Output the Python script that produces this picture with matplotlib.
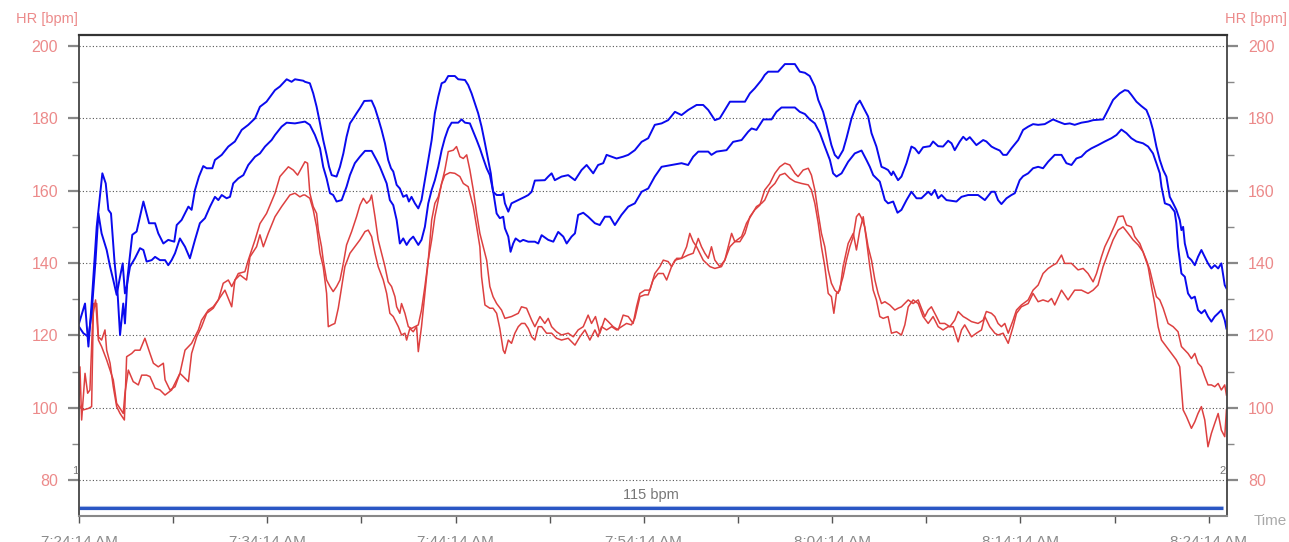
import numpy as np
import matplotlib
matplotlib.use('Agg')
import matplotlib.pyplot as plt
from matplotlib.ticker import MultipleLocator, FixedLocator

plt.rcParams['font.family'] = ['Liberation Sans Narrow', 'Liberation Sans', 'DejaVu Sans']

# heart rate traces: (minutes since 7:24:14 AM, bpm)
blue_upper = [(0.0,123.3),(0.32,128.8),(0.50,116.9),(0.67,128.8),(0.94,150.0),(1.24,164.8),(1.42,162.0),(1.56,154.7),(1.70,153.7),(1.88,140.8),(2.05,131.6),(2.18,120.1),(2.35,128.8),(2.44,123.3),(2.58,136.2),(2.83,147.8),(3.06,148.7),(3.42,157.0),(3.72,151.0),(4.04,151.0),(4.21,148.2),(4.48,145.4),(4.74,146.4),(5.06,145.9),(5.19,150.5),(5.45,151.9),(5.81,155.6),(5.98,154.7),(6.16,160.2),(6.37,163.9),(6.60,166.8),(6.78,166.2),(7.08,166.2),(7.22,168.5),(7.58,169.9),(7.93,172.2),(8.28,173.6),(8.64,176.8),(8.99,178.2),(9.35,180.0),(9.61,183.2),(9.96,184.6),(10.41,187.8),(10.67,188.8),(11.03,190.8),(11.29,190.1),(11.47,190.8),(11.91,190.4),
    (12.00,190.1),(12.26,189.7),(12.44,186.9),(12.62,183.2),(12.80,178.6),(12.97,174.0),(13.15,169.9),(13.28,166.6),(13.42,164.3),(13.68,163.9),(13.86,166.6),(14.04,170.3),(14.21,174.9),(14.39,178.6),(14.57,180.0),(14.74,181.4),(14.92,182.8),(15.15,184.8),(15.54,184.9),(15.72,182.8),(15.89,180.0),(16.07,176.8),(16.25,173.1),(16.42,168.5),(16.57,166.2),(16.69,165.3),(16.87,161.6),(17.04,160.6),(17.22,158.3),(17.40,158.8),(17.52,157.0),(17.66,158.3),(17.84,156.5),(18.02,155.1),(18.19,157.4),(18.37,162.9),(18.55,168.5),(18.73,174.0),(18.90,181.4),(19.08,186.0),(19.26,189.7),(19.43,190.1),(19.61,191.7),(19.96,191.7),(20.14,190.8),(20.50,190.6),(20.67,189.2),(20.85,186.9),(21.03,184.1),(21.20,181.4),(21.38,177.7),(21.56,173.1),(21.73,168.5),(21.87,164.8),(21.99,159.7),(22.18,158.8),(22.44,158.8),(22.53,159.3),(22.62,156.5),(22.80,154.2),(22.97,156.5),(23.33,157.4),(23.68,158.3),(23.86,158.8),(24.04,159.7),
    (24.21,162.8),(24.74,162.9),(24.92,163.9),(25.10,164.8),(25.27,162.9),(25.63,163.9),(25.98,164.3),(26.34,162.9),(26.69,165.7),(26.96,167.1),(27.31,164.8),(27.57,167.1),(27.84,167.6),(28.02,169.9),(28.29,169.4),(28.55,168.9),(28.90,169.4),(29.17,169.9),(29.52,171.2),(29.88,173.5),(30.23,174.5),(30.58,178.2),(30.94,178.6),(31.29,179.5),(31.65,181.8),(32.00,180.9),(32.35,182.3),(32.80,183.7),(33.15,183.7),(33.42,182.3),(33.77,179.5),(34.03,180.0),(34.30,182.3),(34.57,184.6),(35.37,184.6),(35.63,186.9),(35.89,188.3),(36.25,190.6),
    (36.42,192.0),(36.60,192.9),(37.13,192.9),(37.49,195.0),(38.02,195.0),(38.28,192.9),(38.55,192.6),(38.81,191.7),(39.08,188.8),(39.26,185.1),(39.52,181.8),(39.70,178.2),(39.96,172.6),(40.14,169.9),(40.32,168.9),(40.58,171.2),(40.76,174.5),(41.03,180.0),(41.29,183.7),(41.47,184.9),(41.73,182.3),(41.91,180.5),(42.09,175.9),(42.35,172.2),(42.62,166.6),(42.80,166.2),(42.97,165.7),(43.15,164.3),(43.24,165.3),(43.50,162.9),(43.68,163.9),(43.95,167.6),(44.21,172.2),(44.39,171.7),(44.60,170.3),(44.83,172.0),(45.19,172.3),(45.36,173.6),(45.63,172.3),(45.89,172.2),(46.16,173.8),(46.34,173.1),(46.51,171.2),(46.78,173.6),(46.96,174.9),(47.13,174.0),(47.31,174.8),(47.66,172.6),(48.02,174.0),(48.19,173.6),(48.46,172.2),
    (48.64,171.7),(48.90,171.1),(49.08,169.9),(49.27,169.9),(49.52,171.7),(49.88,174.0),(50.14,176.8),(50.41,177.7),(50.67,178.4),(50.94,178.2),(51.29,178.4),(51.73,179.7),(52.00,179.1),(52.35,178.4),(52.62,178.6),(52.88,178.2),(53.24,178.8),(53.59,179.1),(53.86,179.5),(54.39,179.7),(54.65,182.3),(54.92,185.1),(55.27,186.9),(55.54,187.8),(55.72,187.6),(55.89,186.5),(56.16,184.6),(56.42,183.4),(56.69,182.3),(56.87,180.0),(57.04,176.8),(57.22,172.2),(57.40,168.5),(57.58,165.7),(57.75,163.9),(57.93,158.3),(58.11,156.5),(58.28,154.7),(58.46,151.9),(58.55,149.1),(58.64,150.0),(58.73,145.4),(58.90,141.7),(59.08,140.8),(59.26,139.4),(59.43,141.7),(59.61,143.6),(59.79,141.7),(59.96,139.9),(60.14,138.5),(60.32,139.4),(60.50,138.5),(60.67,139.9),(60.85,133.9),(60.94,133.0)]

blue_lower = [(0.0,122.4),(0.23,120.6),(0.50,119.6),(0.67,126.1),(0.88,140.8),(1.03,153.7),(1.20,148.2),(1.47,143.6),(1.65,139.0),(1.82,135.3),(2.00,131.2),(2.18,136.2),(2.32,139.9),(2.44,131.6),(2.53,133.5),(2.71,139.0),(2.97,141.3),(3.24,144.1),(3.42,143.6),(3.59,140.4),(3.86,140.8),(4.04,141.7),(4.30,140.8),(4.57,140.8),(4.74,139.4),(4.92,140.8),(5.10,142.7),(5.36,146.8),(5.63,144.5),(5.89,141.3),(6.16,146.4),(6.42,151.0),(6.69,152.4),(6.96,155.6),(7.22,158.3),(7.40,157.4),(7.58,158.8),(7.84,157.9),(8.02,158.3),(8.19,162.0),(8.46,163.4),(8.73,164.3),(8.99,167.1),(9.35,169.4),(9.61,170.3),(9.88,172.2),(10.23,174.0),(10.41,175.4),(10.76,177.7),(11.03,178.8),(11.47,178.6),
    (12.00,179.1),(12.26,178.2),(12.53,175.4),(12.80,171.7),(12.97,166.6),(13.15,163.4),(13.33,159.3),(13.50,158.8),(13.68,157.0),(13.95,157.4),(14.21,161.1),(14.39,164.3),(14.65,167.6),(14.92,169.4),(15.19,171.0),(15.54,171.0),(15.80,168.5),(15.98,166.6),(16.16,164.3),(16.34,162.0),(16.51,157.4),(16.69,156.0),(16.87,151.9),(17.04,145.4),(17.22,146.8),(17.40,145.0),(17.57,146.4),(17.75,147.3),(18.02,145.0),(18.19,146.4),(18.37,150.0),(18.55,156.5),(18.73,160.2),(18.90,162.9),(19.08,166.6),(19.26,171.2),(19.43,174.5),(19.61,177.2),(19.79,178.8),(20.14,178.8),(20.32,179.7),(20.50,178.8),(20.76,178.6),(20.94,176.3),(21.12,174.0),(21.29,171.7),(21.47,168.9),(21.65,166.2),(21.82,164.3),(22.00,159.7),(22.18,153.7),(22.35,152.4),(22.53,152.8),(22.62,149.6),(22.80,147.3),(22.92,143.1),(23.06,145.4),(23.19,146.8),(23.42,145.9),(23.59,146.4),(23.86,145.9),
    (24.21,145.9),(24.39,145.4),(24.57,147.7),(24.92,146.4),(25.19,145.9),(25.45,148.6),(25.72,147.3),(25.90,145.4),(26.16,147.3),(26.34,148.2),(26.51,153.3),(26.78,153.9),(27.04,152.8),(27.40,151.0),(27.66,150.5),(27.93,152.8),(28.20,152.8),(28.46,150.5),(28.81,153.3),(29.17,155.6),(29.52,156.5),(29.88,159.7),(30.23,160.6),(30.58,163.9),(30.94,166.6),(31.47,167.1),(32.00,167.6),(32.35,167.1),(32.62,169.4),(32.89,170.8),(33.42,170.8),(33.59,169.9),(33.86,170.8),(34.39,171.2),(34.74,173.5),(35.19,174.0),(35.54,176.3),(35.72,177.2),(35.98,176.8),(36.34,179.7),
    (36.42,179.7),(36.78,179.7),(37.04,181.8),(37.31,183.0),(38.02,183.0),(38.28,181.8),(38.55,181.2),(38.81,179.7),(39.08,178.6),(39.35,175.9),(39.61,172.2),(39.88,168.5),(40.05,164.8),(40.23,163.9),(40.50,164.8),(40.85,168.0),(41.20,170.3),(41.56,171.1),(41.82,168.5),(42.00,166.6),(42.18,164.3),(42.53,162.5),(42.80,157.4),(42.97,156.5),(43.24,157.0),(43.47,153.9),(43.68,154.7),(43.95,157.4),(44.21,159.7),(44.48,157.9),(44.74,157.9),(45.10,159.7),(45.27,158.8),(45.45,160.2),(45.63,157.9),(45.81,158.8),(46.07,157.4),(46.60,157.0),(46.87,158.3),(47.22,158.8),(47.75,158.8),(48.11,157.4),(48.46,159.7),
    (48.64,159.7),(48.81,157.4),(48.99,156.3),(49.26,157.9),(49.52,158.8),(49.70,159.3),(49.96,162.9),(50.14,164.0),(50.41,164.8),(50.67,166.2),(50.94,166.6),(51.20,166.2),(51.47,168.0),(51.82,169.9),(52.18,169.9),(52.44,167.6),(52.71,167.1),(52.97,168.9),(53.24,169.4),(53.50,170.8),(53.77,171.7),(54.12,172.6),(54.48,173.6),(54.83,174.5),(55.10,175.4),(55.36,176.9),(55.63,175.9),(55.89,174.5),(56.16,173.6),(56.51,173.1),(56.78,172.2),(57.04,170.3),(57.22,167.6),(57.40,164.8),(57.49,161.1),(57.67,156.5),(57.93,156.0),(58.19,154.2),(58.28,151.0),(58.37,144.5),(58.55,137.1),(58.73,136.2),(58.90,131.6),(59.08,130.2),(59.26,130.7),(59.43,127.0),(59.61,126.1),(59.79,127.0),(59.96,125.2),(60.14,123.8),(60.32,125.2),(60.50,126.1),(60.67,127.0),(60.85,124.2),(60.94,121.9)]

red_upper = [(0.0,101.2),(0.05,111.3),(0.14,96.6),(0.32,109.5),(0.46,104.0),(0.58,104.9),(0.76,128.8),(0.94,128.8),(1.03,119.6),(1.20,118.7),(1.38,121.5),(1.47,115.9),(1.65,112.3),(1.82,105.8),(2.00,100.3),(2.18,98.4),(2.41,96.6),(2.53,114.1),(2.80,115.0),(2.97,115.9),(3.24,115.9),(3.50,119.2),(3.77,115.0),(3.95,112.3),(4.21,111.3),(4.48,112.3),(4.57,107.7),(4.83,104.9),(5.10,105.8),(5.36,109.5),(5.63,115.9),(5.98,117.8),(6.34,121.5),(6.51,124.2),(6.87,127.0),(7.13,127.9),(7.40,129.8),(7.66,134.4),(7.93,135.3),(8.11,133.5),(8.46,137.1),(8.81,137.6),(8.99,140.8),(9.35,146.4),(9.61,150.9),(9.96,153.7),(10.41,159.3),(10.67,163.9),(11.12,166.6),(11.38,165.7),(11.61,164.3),
    (12.00,168.0),(12.14,167.6),(12.26,159.3),(12.44,155.6),(12.62,153.7),(12.71,149.1),(12.88,144.5),(12.97,140.8),(13.15,135.3),(13.33,133.5),(13.50,132.1),(13.68,133.5),(13.86,135.3),(14.04,139.9),(14.21,145.0),(14.48,148.7),(14.74,152.8),(14.92,156.0),(15.10,157.9),(15.28,156.5),(15.45,157.4),(15.54,158.8),(15.72,152.8),(15.89,146.4),(16.07,142.7),(16.25,139.0),(16.42,134.8),(16.60,133.5),(16.78,130.7),(16.87,127.9),(17.04,126.1),(17.13,128.8),(17.31,126.1),(17.49,122.4),(17.66,121.9),(17.84,122.4),(18.02,122.9),(18.19,127.0),(18.37,133.5),(18.55,140.8),(18.73,146.4),(18.90,152.8),(19.08,157.4),(19.26,162.0),(19.43,165.7),(19.61,170.8),(19.88,171.2),(20.05,172.2),(20.23,169.4),(20.41,168.9),(20.59,169.9),(20.76,165.7),(20.94,160.2),(21.12,153.7),(21.29,148.2),(21.47,144.5),(21.65,140.8),(21.82,133.5),(21.99,130.7),(22.18,128.8),(22.44,127.0),(22.62,124.7),(22.97,125.2),(23.33,126.1),(23.50,127.9),(23.77,127.5),(24.04,124.2),
    (24.21,122.4),(24.48,125.2),(24.74,123.3),(24.92,124.7),(25.10,122.4),(25.36,121.0),(25.63,120.1),(25.98,120.6),(26.25,119.6),(26.51,121.5),(26.78,122.4),(27.04,125.6),(27.22,123.3),(27.43,125.2),(27.66,120.6),(27.93,124.7),(28.11,123.8),(28.37,122.4),(28.64,121.5),(28.90,125.6),(29.17,125.2),(29.43,123.3),(29.61,127.9),(29.79,131.6),(30.05,132.5),(30.32,132.5),(30.58,137.1),(30.85,139.0),(31.03,140.8),(31.29,140.4),(31.47,139.0),(31.74,141.3),(32.00,141.3),(32.27,144.5),(32.44,148.2),(32.62,145.9),(32.80,144.5),(32.97,142.7),(33.15,140.8),(33.33,139.9),(33.51,139.0),(33.77,138.5),(34.12,139.0),(34.30,140.8),(34.48,144.5),(34.66,148.2),(34.83,145.9),(35.10,145.9),(35.37,148.2),(35.63,152.8),(35.89,154.7),(36.16,156.0),
    (36.42,160.2),(36.69,162.0),(36.96,164.8),(37.22,166.6),(37.49,167.6),(37.75,167.1),(38.02,164.8),(38.19,163.9),(38.46,165.7),(38.73,166.2),(38.90,164.3),(39.08,160.2),(39.26,153.7),(39.43,148.2),(39.61,144.5),(39.79,138.1),(39.96,134.4),(40.14,132.5),(40.32,131.6),(40.58,136.2),(40.76,140.8),(40.94,144.5),(41.12,147.3),(41.29,152.8),(41.43,153.7),(41.56,152.4),(41.73,150.0),(41.91,144.5),(42.09,140.8),(42.27,135.3),(42.44,131.6),(42.62,128.8),(42.80,129.3),(43.06,128.4),(43.33,127.0),(43.50,127.5),(43.68,127.9),(44.04,129.8),(44.30,128.8),(44.57,129.8),(44.74,127.5),(44.92,125.2),(45.10,127.0),(45.27,127.9),(45.54,125.2),(45.72,123.3),(45.98,123.3),(46.25,122.4),(46.51,124.2),(46.69,126.6),(46.96,125.2),(47.13,124.7),(47.40,123.8),(47.75,123.3),(48.02,124.2),(48.19,126.6),(48.46,126.1),
    (48.64,125.2),(48.81,123.3),(48.99,122.4),(49.17,123.3),(49.35,120.6),(49.61,124.2),(49.79,127.0),(50.05,128.4),(50.41,129.8),(50.67,132.5),(50.94,133.9),(51.20,137.1),(51.47,138.5),(51.73,139.4),(51.91,139.9),(52.18,142.2),(52.35,139.9),(52.71,139.9),(53.06,138.1),(53.33,138.5),(53.59,137.1),(53.86,134.8),(54.04,137.1),(54.30,141.7),(54.48,144.5),(54.74,147.3),(55.01,150.5),(55.19,152.8),(55.45,153.0),(55.63,150.5),(55.89,150.0),(56.07,147.3),(56.34,145.4),(56.51,143.1),(56.69,140.8),(56.87,138.1),(57.04,134.4),(57.22,130.7),(57.40,129.8),(57.58,127.5),(57.84,123.3),(58.11,122.4),(58.37,121.0),(58.55,116.9),(58.73,115.9),(58.90,115.0),(59.08,113.6),(59.26,115.0),(59.43,112.3),(59.61,111.3),(59.79,108.6),(59.96,106.3),(60.14,106.3),(60.32,105.8),(60.50,106.7),(60.67,104.9),(60.85,106.3),(60.94,103.5)]

red_lower = [(0.0,101.2),(0.05,100.3),(0.23,99.4),(0.50,99.8),(0.67,100.3),(0.76,126.1),(0.88,129.8),(1.03,118.7),(1.20,116.9),(1.47,113.2),(1.65,110.4),(1.82,107.7),(2.00,101.2),(2.18,99.8),(2.35,98.4),(2.44,104.0),(2.62,110.4),(2.88,107.2),(3.15,106.3),(3.33,109.0),(3.59,109.0),(3.77,108.6),(4.04,105.4),(4.30,104.9),(4.57,103.5),(4.92,104.9),(5.19,107.7),(5.36,109.5),(5.54,108.6),(5.81,107.2),(5.98,115.0),(6.25,119.6),(6.51,122.4),(6.78,126.1),(7.13,127.5),(7.40,129.8),(7.75,132.5),(8.11,127.9),(8.28,135.3),(8.55,136.7),(8.90,135.3),(9.08,141.7),(9.43,144.5),(9.61,147.8),(9.79,144.5),(10.05,148.2),(10.41,152.8),(10.76,155.6),(11.20,158.8),(11.47,159.3),(11.73,158.3),(11.91,158.8),
    (12.00,158.8),(12.26,157.9),(12.44,154.7),(12.62,150.0),(12.80,142.7),(12.97,139.0),(13.15,131.6),(13.24,122.4),(13.42,122.9),(13.59,123.3),(13.77,127.5),(13.95,133.5),(14.12,139.0),(14.39,142.7),(14.65,144.5),(14.92,146.4),(15.19,148.7),(15.36,149.1),(15.54,147.3),(15.72,142.7),(15.89,139.0),(16.16,135.3),(16.34,131.6),(16.51,126.1),(16.69,125.2),(16.96,122.4),(17.13,120.1),(17.31,120.6),(17.40,118.7),(17.57,121.9),(17.75,121.0),(17.93,122.4),(18.02,115.5),(18.19,122.4),(18.37,131.6),(18.55,140.8),(18.73,151.9),(18.90,156.5),(19.08,158.3),(19.26,162.0),(19.43,164.3),(19.70,165.0),(19.96,164.8),(20.23,163.9),(20.41,162.0),(20.67,161.1),(20.94,155.6),(21.12,150.0),(21.29,144.5),(21.38,136.2),(21.56,128.4),(21.82,127.5),(21.99,127.5),(22.18,126.1),(22.35,121.9),(22.53,115.9),(22.62,115.0),(22.80,118.7),(22.97,117.8),(23.15,120.6),(23.33,122.4),(23.50,123.3),(23.68,123.3),(23.86,121.9),(24.04,119.6),
    (24.21,118.7),(24.39,122.4),(24.57,122.4),(24.83,120.6),(25.10,120.6),(25.36,119.2),(25.63,118.7),(25.98,119.2),(26.34,117.3),(26.60,119.6),(26.87,121.5),(27.13,118.7),(27.40,121.5),(27.57,119.6),(27.75,122.4),(28.02,121.5),(28.29,122.4),(28.55,121.5),(28.81,122.4),(29.08,123.3),(29.34,122.9),(29.52,124.7),(29.79,130.7),(30.05,131.2),(30.23,131.2),(30.49,135.3),(30.76,137.1),(31.03,137.1),(31.21,135.3),(31.47,139.0),(31.65,140.8),(32.00,141.3),(32.35,142.2),(32.62,142.7),(32.89,146.8),(33.06,144.5),(33.24,142.7),(33.42,141.3),(33.59,144.5),(33.77,140.8),(34.03,139.0),(34.30,140.8),(34.57,144.5),(34.83,145.9),(35.19,147.3),(35.45,151.0),(35.72,153.3),(35.98,155.6),(36.25,156.5),
    (36.42,157.4),(36.69,160.6),(36.96,162.0),(37.22,164.3),(37.49,164.8),(37.75,163.4),(38.02,162.5),(38.37,162.0),(38.73,161.6),(38.90,160.2),(39.08,156.5),(39.26,151.0),(39.43,144.5),(39.61,139.0),(39.79,131.6),(39.96,130.7),(40.09,126.1),(40.23,131.6),(40.41,132.5),(40.58,139.0),(40.85,145.4),(41.12,148.2),(41.29,143.6),(41.47,149.1),(41.65,152.8),(41.82,146.4),(42.00,139.0),(42.18,132.5),(42.35,129.8),(42.53,125.2),(42.71,124.7),(42.97,125.2),(43.15,120.6),(43.42,121.0),(43.68,120.1),(43.86,122.9),(44.04,127.9),(44.30,129.8),(44.57,128.8),(44.83,125.2),(45.10,123.3),(45.36,125.2),(45.63,122.4),(45.89,121.5),(46.16,122.4),(46.43,122.4),(46.69,118.2),(46.87,121.5),(47.04,122.9),(47.40,119.6),(47.66,120.6),(47.93,121.5),(48.11,125.2),(48.37,122.4),
    (48.64,120.6),(48.81,120.1),(49.08,120.6),(49.35,117.8),(49.61,122.4),(49.79,126.1),(50.05,127.9),(50.41,128.8),(50.67,131.6),(50.94,129.3),(51.20,129.8),(51.47,129.3),(51.65,130.2),(51.82,128.4),(52.18,132.5),(52.53,129.8),(52.88,132.5),(53.24,132.5),(53.59,131.6),(53.86,132.5),(54.12,133.9),(54.39,139.0),(54.65,142.7),(54.92,146.4),(55.19,149.1),(55.45,150.0),(55.72,148.2),(55.98,146.4),(56.25,145.0),(56.51,143.1),(56.78,139.0),(56.96,133.5),(57.13,128.8),(57.31,122.4),(57.49,118.7),(57.75,116.9),(58.02,115.0),(58.28,113.2),(58.46,111.3),(58.64,99.4),(58.82,97.5),(59.08,94.3),(59.26,96.1),(59.43,98.4),(59.61,100.3),(59.79,96.6),(59.96,89.2),(60.14,92.9),(60.32,95.7),(60.50,98.4),(60.67,93.8),(60.85,92.0),(60.94,99.4)]

tick_minutes = [0, 10, 20, 30, 40, 50, 60]
tick_labels = ['7:24:14 AM', '7:34:14 AM', '7:44:14 AM', '7:54:14 AM',
               '8:04:14 AM', '8:14:14 AM', '8:24:14 AM']
avg_hr = 115
lap_marks = [(0.0, '1'), (60.97, '2')]
session_end = 60.75

pink = '#ec8a8a'
fig = plt.figure(figsize=(12.89, 5.42), dpi=100)
ax = fig.add_axes([79/1289, 1 - 516/542, (1227 - 79)/1289, (516 - 35)/542])

for series, color, lw in [(red_lower, '#dd4040', 1.1), (red_upper, '#dd4040', 1.1),
                          (blue_lower, '#0a0aee', 1.4), (blue_upper, '#0a0aee', 1.4)]:
    arr = np.array(series)
    ax.plot(arr[:, 0], arr[:, 1], color=color, lw=lw)

# summary bar along the bottom of the plot
ax.plot([0, session_end], [72.9, 72.9], color='#b8c8ea', lw=0.8, solid_capstyle='butt')
ax.plot([0, session_end], [72.4, 72.4], color='#2a56c4', lw=2.3, solid_capstyle='butt')
ax.text(30.4, 75.9, f'{avg_hr} bpm', ha='center', va='center', fontsize=10.5, color='#777777')

for t, lab in lap_marks:
    ax.text(t - 0.05, 82.6, lab, ha='right', va='center', fontsize=8, color='#777777', clip_on=False)

ax.set_xlim(0, 60.97)
ax.set_ylim(70.06, 203.04)

ax.set_yticks([80, 100, 120, 140, 160, 180, 200])
ax.yaxis.set_minor_locator(FixedLocator([70, 90, 110, 130, 150, 170, 190]))
ax.xaxis.set_major_locator(FixedLocator(tick_minutes))
ax.xaxis.set_minor_locator(MultipleLocator(5))
ax.set_xticklabels(tick_labels)

ax.yaxis.grid(True, which='major', linestyle=(0, (1, 2)), color='#555555', lw=0.8)
ax.tick_params(axis='y', which='both', left=True, right=True, labelleft=True, labelright=True,
               colors='#888888', labelcolor=pink, labelsize=11.5, pad=7)
ax.tick_params(axis='y', which='major', length=8, width=1.6)
ax.tick_params(axis='y', which='minor', length=5, width=1.0)
ax.tick_params(axis='x', which='both', length=5, width=1.0, colors='#555555',
               labelcolor='#8a8a8a', labelsize=11, pad=9)

for side, color, lw in [('top', '#333333', 1.6), ('left', '#444444', 1.3),
                        ('right', '#444444', 1.3), ('bottom', '#888888', 1.5)]:
    ax.spines[side].set_color(color)
    ax.spines[side].set_linewidth(lw)

fig.text(16/1289, 1 - 19/542, 'HR [bpm]', ha='left', va='center', fontsize=10.5, color=pink)
fig.text(1287/1289, 1 - 19/542, 'HR [bpm]', ha='right', va='center', fontsize=10.5, color=pink)
fig.text(1270/1289, 1 - 521/542, 'Time', ha='center', va='center', fontsize=11, color='#aaaaaa')

fig.savefig('out.png', dpi=100)
